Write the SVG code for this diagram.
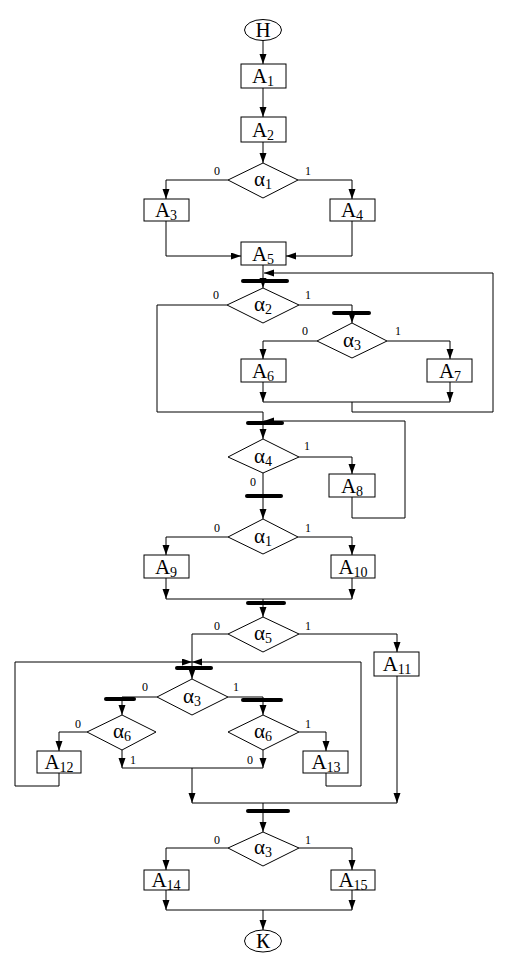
<svg xmlns="http://www.w3.org/2000/svg" width="512" height="973" viewBox="0 0 512 973">
<defs>
<marker id="ar" markerWidth="10" markerHeight="8" refX="10" refY="3.5" orient="auto" markerUnits="userSpaceOnUse"><path d="M0,0 L10,3.5 L0,7 Z" fill="#000"/></marker>
<style>
.b{fill:#fff;stroke:#000;stroke-width:1}
.c{fill:none;stroke:#000;stroke-width:1}
.a{fill:none;stroke:#000;stroke-width:1;marker-end:url(#ar)}
.bar{stroke:#000;stroke-width:4;stroke-linecap:round}
.t{font-family:"Liberation Serif",serif;font-size:21px;text-anchor:middle;fill:#000}
.s{font-size:14px}
.n{font-family:"Liberation Serif",serif;font-size:12px;fill:#000}
</style>
</defs>
<rect width="512" height="973" fill="#fff"/>
<g id="connectors">
<path class="a" d="M263,40 V64"/>
<path class="a" d="M263,88 V117"/>
<path class="a" d="M263,142 V163"/>
<path class="a" d="M228,180 H166 V199"/>
<path class="a" d="M298,180 H352 V199"/>
<path class="a" d="M166,221 V256 H241"/>
<path class="a" d="M352,221 V256 H286"/>
<path class="a" d="M263,265 V288"/>
<line class="bar" x1="243" y1="281" x2="287" y2="281"/>
<path class="a" d="M227,305 H157 V412 H263 V439"/>
<path class="a" d="M299,305 H352 V323"/>
<line class="bar" x1="334" y1="313" x2="369" y2="313"/>
<path class="a" d="M317,341 H263 V359"/>
<path class="a" d="M387,341 H450 V359"/>
<path class="a" d="M263,382 V402"/>
<path class="a" d="M450,382 V402"/>
<path class="c" d="M263,402 H450"/>
<path class="a" d="M352,402 V412 H493 V273 H264"/>
<line class="bar" x1="248" y1="423" x2="282" y2="423"/>
<path class="a" d="M352,518 H405 V421 H264"/>
<path class="c" d="M352,497 V518"/>
<path class="a" d="M299,457 H352 V474"/>
<path class="a" d="M263,473 V519"/>
<line class="bar" x1="247" y1="496" x2="281" y2="496"/>
<path class="a" d="M228,537 H166 V555"/>
<path class="a" d="M298,537 H352 V555"/>
<path class="a" d="M166,578 V599"/>
<path class="a" d="M352,578 V599"/>
<path class="c" d="M166,599 H352"/>
<path class="a" d="M263,599 V617"/>
<line class="bar" x1="248" y1="603" x2="284" y2="603"/>
<path class="a" d="M299,634 H397 V652"/>
<path class="a" d="M397,676 V803"/>
<path class="a" d="M228,634 H192 V679"/>
<line class="bar" x1="177" y1="668" x2="211" y2="668"/>
<path class="a" d="M59,773 V786 H15 V662 H192"/>
<path class="a" d="M326,773 V786 H361 V662 H192"/>
<path class="a" d="M157,697 H122 V715"/>
<line class="bar" x1="106" y1="699" x2="134" y2="699"/>
<path class="a" d="M228,697 H263 V715"/>
<line class="bar" x1="243" y1="700" x2="281" y2="700"/>
<path class="a" d="M87,732 H59 V751"/>
<path class="a" d="M122,750 V768"/>
<path class="a" d="M299,732 H326 V751"/>
<path class="a" d="M263,750 V768"/>
<path class="c" d="M122,768 H263"/>
<path class="a" d="M192,768 V803"/>
<path class="c" d="M192,803 H397"/>
<path class="a" d="M263,803 V832"/>
<line class="bar" x1="248" y1="811" x2="288" y2="811"/>
<path class="a" d="M228,848 H166 V870"/>
<path class="a" d="M299,848 H352 V870"/>
<path class="a" d="M166,890 V910"/>
<path class="a" d="M352,890 V910"/>
<path class="c" d="M166,910 H352"/>
<path class="a" d="M263,910 V930"/>
</g>
<g id="labels">
<text class="n" x="214" y="175">0</text><text class="n" x="305" y="175">1</text>
<text class="n" x="213" y="299">0</text><text class="n" x="305" y="299">1</text>
<text class="n" x="302" y="335">0</text><text class="n" x="395" y="335">1</text>
<text class="n" x="304" y="450">1</text><text class="n" x="250" y="486">0</text>
<text class="n" x="214" y="532">0</text><text class="n" x="305" y="532">1</text>
<text class="n" x="214" y="630">0</text><text class="n" x="305" y="630">1</text>
<text class="n" x="142" y="691">0</text><text class="n" x="233" y="691">1</text>
<text class="n" x="75" y="728">0</text><text class="n" x="305" y="728">1</text>
<text class="n" x="130" y="764">1</text><text class="n" x="247" y="764">0</text>
<text class="n" x="214" y="844">0</text><text class="n" x="305" y="844">1</text>
</g>
<g id="start"><ellipse class="b" cx="263" cy="30" rx="18.5" ry="10.5"/><text class="t" x="263" y="37">Н</text></g>
<g id="A1"><rect class="b" x="241" y="64" width="45" height="24"/><text class="t" x="263" y="83">A<tspan class="s" dy="3">1</tspan></text></g>
<g id="A2"><rect class="b" x="241" y="117" width="45" height="25"/><text class="t" x="263" y="136.5">A<tspan class="s" dy="3">2</tspan></text></g>
<g id="c1"><path class="b" d="M263,163 L298,180 L263,198 L228,180 Z"/><text class="t" x="263" y="186">α<tspan class="s" dy="3">1</tspan></text></g>
<g id="A3"><rect class="b" x="144" y="199" width="45" height="22"/><text class="t" x="166" y="217">A<tspan class="s" dy="3">3</tspan></text></g>
<g id="A4"><rect class="b" x="330" y="199" width="45" height="22"/><text class="t" x="352" y="217">A<tspan class="s" dy="3">4</tspan></text></g>
<g id="A5"><rect class="b" x="241" y="242" width="45" height="23"/><text class="t" x="263" y="260.5">A<tspan class="s" dy="3">5</tspan></text></g>
<g id="c2"><path class="b" d="M263,288 L299,305 L263,323 L227,305 Z"/><text class="t" x="263" y="311">α<tspan class="s" dy="3">2</tspan></text></g>
<g id="c3"><path class="b" d="M352,323 L387,341 L352,358 L317,341 Z"/><text class="t" x="352" y="347">α<tspan class="s" dy="3">3</tspan></text></g>
<g id="A6"><rect class="b" x="241" y="359" width="45" height="23"/><text class="t" x="263" y="377.5">A<tspan class="s" dy="3">6</tspan></text></g>
<g id="A7"><rect class="b" x="427" y="359" width="45" height="23"/><text class="t" x="450" y="377.5">A<tspan class="s" dy="3">7</tspan></text></g>
<g id="c4"><path class="b" d="M263,439 L299,457 L263,473 L228,457 Z"/><text class="t" x="263" y="463">α<tspan class="s" dy="3">4</tspan></text></g>
<g id="A8"><rect class="b" x="329" y="474" width="46" height="23"/><text class="t" x="352" y="492.5">A<tspan class="s" dy="3">8</tspan></text></g>
<g id="c5"><path class="b" d="M263,519 L298,537 L263,554 L228,537 Z"/><text class="t" x="263" y="543">α<tspan class="s" dy="3">1</tspan></text></g>
<g id="A9"><rect class="b" x="144" y="555" width="45" height="23"/><text class="t" x="166" y="573.5">A<tspan class="s" dy="3">9</tspan></text></g>
<g id="A10"><rect class="b" x="331" y="555" width="44" height="23"/><text class="t" x="353" y="573.5">A<tspan class="s" dy="3">10</tspan></text></g>
<g id="c6"><path class="b" d="M263,617 L299,634 L263,652 L228,634 Z"/><text class="t" x="263" y="640">α<tspan class="s" dy="3">5</tspan></text></g>
<g id="A11"><rect class="b" x="374" y="652" width="45" height="24"/><text class="t" x="397" y="671">A<tspan class="s" dy="3">11</tspan></text></g>
<g id="c7"><path class="b" d="M192,679 L228,697 L192,715 L157,697 Z"/><text class="t" x="192" y="703">α<tspan class="s" dy="3">3</tspan></text></g>
<g id="c8"><path class="b" d="M122,715 L156,732 L122,750 L87,732 Z"/><text class="t" x="122" y="738">α<tspan class="s" dy="3">6</tspan></text></g>
<g id="c9"><path class="b" d="M263,715 L299,732 L263,750 L228,732 Z"/><text class="t" x="263" y="738">α<tspan class="s" dy="3">6</tspan></text></g>
<g id="A12"><rect class="b" x="37" y="751" width="44" height="22"/><text class="t" x="59" y="769">A<tspan class="s" dy="3">12</tspan></text></g>
<g id="A13"><rect class="b" x="303" y="751" width="45" height="22"/><text class="t" x="326" y="769">A<tspan class="s" dy="3">13</tspan></text></g>
<g id="c10"><path class="b" d="M263,832 L299,848 L263,866 L228,848 Z"/><text class="t" x="263" y="854">α<tspan class="s" dy="3">3</tspan></text></g>
<g id="A14"><rect class="b" x="144" y="870" width="45" height="20"/><text class="t" x="166" y="887">A<tspan class="s" dy="3">14</tspan></text></g>
<g id="A15"><rect class="b" x="331" y="870" width="44" height="20"/><text class="t" x="353" y="887">A<tspan class="s" dy="3">15</tspan></text></g>
<g id="end"><ellipse class="b" cx="263" cy="941" rx="18.5" ry="11"/><text class="t" x="263" y="948">К</text></g>
</svg>
